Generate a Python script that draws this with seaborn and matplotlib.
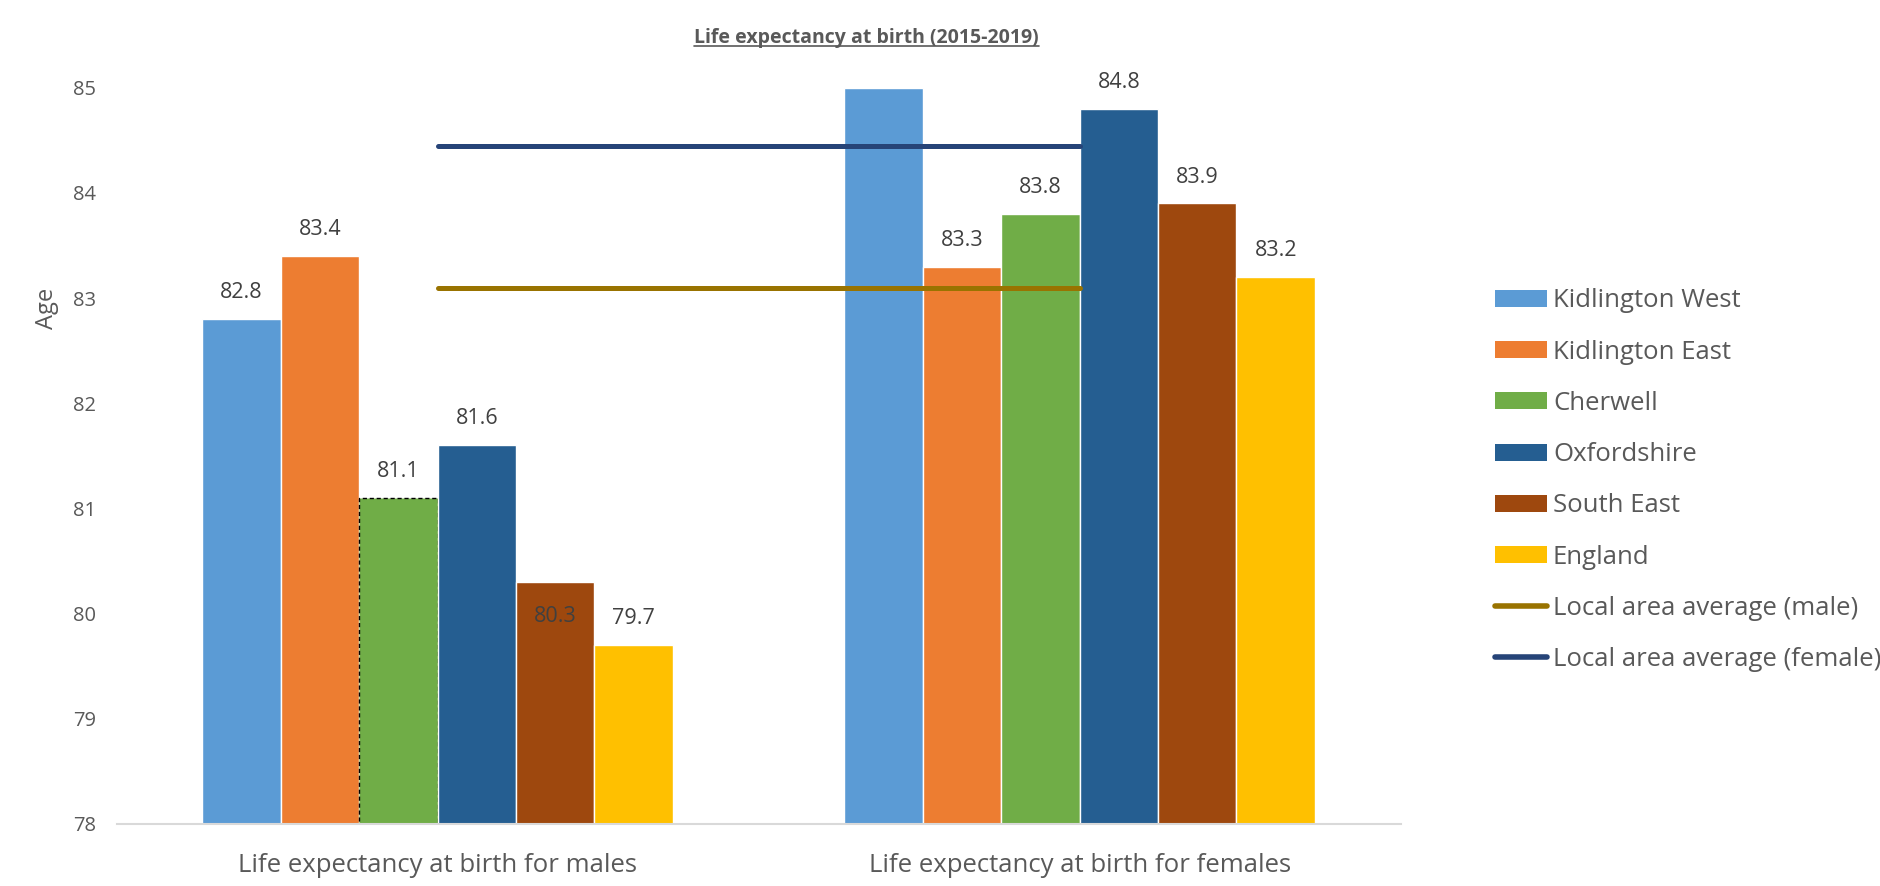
import pandas as pd
import matplotlib
matplotlib.use('Agg')
import matplotlib.pyplot as plt
from matplotlib.patches import Patch
from matplotlib.lines import Line2D
import seaborn as sns

# data
categories = ['Life expectancy at birth for males', 'Life expectancy at birth for females']
areas = ['Kidlington West', 'Kidlington East', 'Cherwell', 'Oxfordshire', 'South East', 'England']
males = [82.8, 83.4, 81.1, 81.6, 80.3, 79.7]
females = [85.0, 83.3, 83.8, 84.8, 83.9, 83.2]
avg_male = [83.1, 83.1]
avg_female = [84.45, 84.45]
avg_names = ['Local area average (male)', 'Local area average (female)']

colors = ['#5B9BD5', '#ED7D31', '#70AD47', '#255E91', '#9E480E', '#FFC000']
line_colors = ['#997300', '#264478']
grey = '#595959'

df = pd.DataFrame({
    'sex': [categories[0]] * len(areas) + [categories[1]] * len(areas),
    'area': areas * 2,
    'age': males + females,
})

sns.set_style('white')
plt.rcParams['font.family'] = ['Open Sans', 'DejaVu Sans']

fig = plt.figure(figsize=(18.8, 8.86), dpi=100)
ax = fig.add_axes([0.062, 0.070, 0.683, 0.831])

sns.barplot(data=df, x='sex', y='age', hue='area', order=categories, hue_order=areas,
            palette=colors, saturation=1, width=0.733, legend=False, ax=ax)

# averages drawn as lines across the two categories
xs = list(range(len(categories)))
ax.plot(xs, avg_female, color=line_colors[1], lw=3.6, solid_capstyle='round', zorder=5)
ax.plot(xs, avg_male, color=line_colors[0], lw=3.6, solid_capstyle='round', zorder=5)

ax.set_ylim(78, 85)
ax.set_xlim(-0.5, 1.5)

# Cherwell male bar has a dashed outline
cher = ax.containers[2].patches[0]
cher.set_edgecolor('black')
cher.set_linestyle((0, (3, 2)))
cher.set_linewidth(1.0)

# value labels
for i, cont in enumerate(ax.containers):
    vals = [males[i], females[i]]
    for j, (p, v) in enumerate(zip(cont.patches, vals)):
        if v >= 85:
            continue  # clipped at the top of the axis, no label in the original
        xc = p.get_x() + p.get_width() / 2
        off = 19
        if areas[i] == 'South East' and j == 0:
            off = -25  # this one sits inside the bar
        ax.annotate(f'{v:.1f}', (xc, v), xytext=(0, off), textcoords='offset points',
                    ha='center', va='center', fontsize=15.5, color='#404040')

for s in ['top', 'right', 'left']:
    ax.spines[s].set_visible(False)
ax.spines['bottom'].set_color('#D9D9D9')
ax.spines['bottom'].set_linewidth(1.5)
ax.tick_params(axis='y', length=0, labelsize=14.5, labelcolor=grey, pad=15)
ax.tick_params(axis='x', length=0, labelsize=18.5, labelcolor=grey, pad=21)
ax.set_xticks(xs)
ax.set_xticklabels(categories)
ax.set_xlabel('')
ax.set_ylabel('Age', fontsize=17, color=grey)
ax.yaxis.set_label_coords(-0.045, 0.70)

# title, underlined
title = fig.text(0.461, 0.957, 'Life expectancy at birth (2015-2019)', ha='center', va='center',
                 fontsize=14, fontweight='bold', color=grey)
fig.canvas.draw()
bb = title.get_window_extent().transformed(fig.transFigure.inverted())
fig.add_artist(Line2D([bb.x0, bb.x1], [bb.y0 + 0.002, bb.y0 + 0.002], color=grey, lw=1.2,
                      transform=fig.transFigure))

handles = [Patch(facecolor=c, edgecolor='none') for c in colors]
handles += [Line2D([], [], color=c, lw=4, solid_capstyle='round') for c in line_colors]
fig.legend(handles, areas + avg_names, loc='center left', bbox_to_anchor=(0.783, 0.458),
           frameon=False, fontsize=18.5, labelcolor=grey, handlelength=2.0, handleheight=0.65,
           handletextpad=0.25, labelspacing=1.02)

fig.savefig('out.png', dpi=100)
